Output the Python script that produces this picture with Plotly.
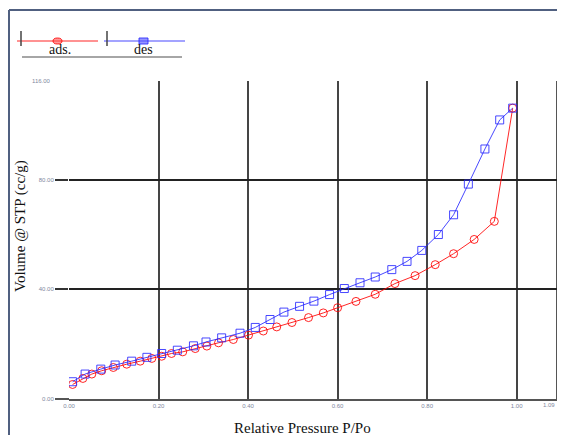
import plotly.graph_objects as go

# ---- data ----
ads_p = [0.008, 0.031, 0.051, 0.073, 0.099, 0.129, 0.159, 0.185, 0.207, 0.229,
         0.254, 0.282, 0.308, 0.334, 0.367, 0.401, 0.434, 0.464, 0.498, 0.535,
         0.568, 0.600, 0.641, 0.684, 0.728, 0.773, 0.818, 0.859, 0.905, 0.950, 0.991]
ads_v = [5.3, 7.5, 9.1, 10.3, 11.5, 12.7, 13.8, 14.8, 15.6, 16.6,
         17.2, 18.4, 19.3, 20.5, 21.7, 23.3, 24.8, 26.3, 27.9, 29.7,
         31.4, 33.3, 35.6, 38.2, 42.1, 45.0, 49.0, 53.0, 58.2, 64.8, 106.1]

des_p = [0.008, 0.036, 0.071, 0.103, 0.140, 0.174, 0.207, 0.242, 0.278, 0.306,
         0.341, 0.382, 0.416, 0.449, 0.480, 0.515, 0.547, 0.582, 0.615, 0.650,
         0.684, 0.721, 0.755, 0.788, 0.825, 0.859, 0.892, 0.929, 0.962, 0.991]
des_v = [6.3, 9.1, 10.9, 12.4, 13.8, 15.2, 16.6, 17.8, 19.4, 20.8,
         22.3, 24.0, 26.1, 29.0, 31.7, 33.8, 35.7, 38.1, 40.3, 42.4,
         44.5, 47.2, 50.2, 54.2, 60.0, 67.2, 78.4, 91.2, 101.8, 106.1]

x_ticks = [0.0, 0.2, 0.4, 0.6, 0.8, 1.0]
x_ticktext = ["0.00", "0.20", "0.40", "0.60", "0.80", "1.00"]
x_max = 1.09
x_max_label = "1.09"
y_ticks = [0, 40, 80]
y_ticktext = ["0.00", "40.00", "80.00"]
y_max = 116
y_top_label = "116.00"
series_names = ["ads.", "des"]

# page body has an 8px default margin; size the figure to fill the rest of the window
OFF = 8
W, H = 565 - OFF, 435 - OFF
ML, MR, MT, MB = 69 - OFF, 8, 81 - OFF, 36
PW, PH = W - ML - MR, H - MT - MB


def px(x):
    """page pixel x -> paper coordinate"""
    return (x - OFF - ML) / PW


def py(y):
    """page pixel y -> paper coordinate"""
    return (H - MB - (y - OFF)) / PH


RED = "rgba(255,0,0,0.85)"
BLUE = "rgba(40,40,255,0.85)"
SERIF = "Liberation Serif"

fig = go.Figure()
fig.add_trace(go.Scatter(x=ads_p, y=ads_v, mode="lines+markers", name=series_names[0],
                         line=dict(color=RED, width=1),
                         marker=dict(symbol="circle-open", size=8, color=RED, line=dict(width=1))))
fig.add_trace(go.Scatter(x=des_p, y=des_v, mode="lines+markers", name=series_names[1],
                         line=dict(color=BLUE, width=1),
                         marker=dict(symbol="square-open", size=8, color=BLUE, line=dict(width=1))))

tickfont = dict(family="Liberation Sans", size=6, color="#8088a0")

fig.update_layout(
    width=W, height=H,
    margin=dict(l=ML, r=MR, t=MT, b=MB, autoexpand=False),
    paper_bgcolor="white", plot_bgcolor="white",
    showlegend=False,
    xaxis=dict(range=[0, x_max], tickvals=x_ticks, ticktext=x_ticktext,
               showgrid=True, gridcolor="#454545", gridwidth=2,
               zeroline=False, showline=True, linecolor="#555555", linewidth=2,
               ticks="", tickfont=tickfont, automargin=False),
    yaxis=dict(range=[0, y_max], tickvals=y_ticks, ticktext=y_ticktext,
               showgrid=True, gridcolor="#222222", gridwidth=1.5,
               zeroline=False, showline=False,
               ticks="outside", ticklen=13, tickwidth=1.5, tickcolor="#333333",
               tickfont=tickfont, automargin=False),
)

shapes = []
# right frame line at the end of the x range
shapes.append(dict(type="line", xref="x", yref="paper", x0=x_max, x1=x_max, y0=0, y1=1,
                   line=dict(color="#555555", width=2), layer="below"))
# image border (left + top)
shapes.append(dict(type="line", xref="paper", yref="paper", x0=px(9), x1=px(9), y0=py(10), y1=py(440),
                   line=dict(color="#506080", width=2)))
shapes.append(dict(type="line", xref="paper", yref="paper", x0=px(9), x1=px(570), y0=py(10), y1=py(10),
                   line=dict(color="#506080", width=2)))
# bottom axis extension to the left
shapes.append(dict(type="line", xref="paper", yref="paper", x0=px(55), x1=px(69), y0=0, y1=0,
                   line=dict(color="#555555", width=2)))
# legend
shapes.append(dict(type="line", xref="paper", yref="paper", x0=px(17), x1=px(98), y0=py(41), y1=py(41),
                   line=dict(color=RED, width=1.2)))
shapes.append(dict(type="line", xref="paper", yref="paper", x0=px(104), x1=px(185), y0=py(41), y1=py(41),
                   line=dict(color=BLUE, width=1.2)))
for tx in (21, 107):
    shapes.append(dict(type="line", xref="paper", yref="paper", x0=px(tx), x1=px(tx), y0=py(31), y1=py(46),
                       line=dict(color="#444444", width=1.5)))
shapes.append(dict(type="circle", xref="paper", yref="paper", x0=px(53), x1=px(62), y0=py(38), y1=py(44),
                   line=dict(color=RED, width=1), fillcolor="rgba(255,80,80,0.6)"))
shapes.append(dict(type="rect", xref="paper", yref="paper", x0=px(139), x1=px(148), y0=py(38), y1=py(44),
                   line=dict(color=BLUE, width=1), fillcolor="rgba(80,80,255,0.6)"))
shapes.append(dict(type="line", xref="paper", yref="paper", x0=px(22), x1=px(182), y0=py(57), y1=py(57),
                   line=dict(color="#888888", width=1.5)))
fig.update_layout(shapes=shapes)

ann = []
ann.append(dict(text=series_names[0], x=px(60), y=py(50), xref="paper", yref="paper", showarrow=False,
                xanchor="center", yanchor="middle",
                font=dict(family=SERIF, size=14, color="#111111")))
ann.append(dict(text=series_names[1], x=px(143), y=py(50), xref="paper", yref="paper", showarrow=False,
                xanchor="center", yanchor="middle",
                font=dict(family=SERIF, size=14, color="#111111")))
ann.append(dict(text=y_top_label, x=px(53), y=y_max, xref="paper", yref="y", xanchor="right",
                yanchor="middle", showarrow=False, font=tickfont))
ann.append(dict(text=x_max_label, x=px(549), y=py(405), xref="paper", yref="paper",
                xanchor="center", yanchor="middle", showarrow=False, font=tickfont))
ann.append(dict(text="Relative Pressure P/Po", x=px(302), y=py(428), xref="paper", yref="paper",
                xanchor="center", yanchor="middle",
                showarrow=False, font=dict(family=SERIF, size=15, color="#111111")))
ann.append(dict(text="Volume @ STP (cc/g)", x=px(20), y=py(226), xref="paper", yref="paper",
                xanchor="center", yanchor="middle",
                showarrow=False, textangle=-90, font=dict(family=SERIF, size=15, color="#111111")))
fig.update_layout(annotations=ann)

fig.write_html("out.html")
